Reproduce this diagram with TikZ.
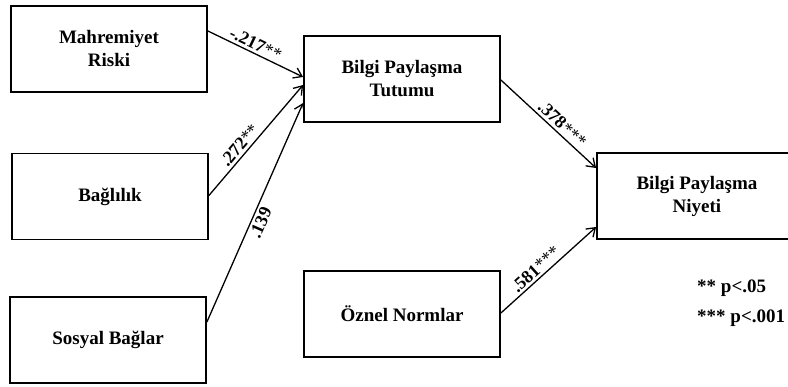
\documentclass[tikz,border=0pt]{standalone}
\usepackage{fontspec}
\setmainfont{Liberation Serif}
\usetikzlibrary{arrows.meta}

\begin{document}
\begin{tikzpicture}[x=1pt,y=-1pt,
    box/.style={draw,line width=1.8pt,minimum width=196pt,minimum height=86pt,align=center,font=\bfseries\fontsize{19}{23}\selectfont},
    link/.style={line width=1.3pt,-{Straight Barb[length=8pt,width=11pt]}},
    coef/.style={font=\bfseries\fontsize{18}{20}\selectfont,sloped,inner sep=2.5pt},
    note/.style={font=\bfseries\fontsize{19}{23}\selectfont,inner sep=0pt,anchor=base west}]
            \clip (0,0) rectangle (788,387);
            % Antecedents
            \node[box] (mah) at (109,49) {Mahremiyet\\Riski};
            \node[box] (bag) at (110,196.5) {Bağlılık};
            \node[box] (sos) at (108,340) {Sosyal Bağlar};
            
            % Attitude and norms
            \node[box] (tut) at (402,79) {Bilgi Paylaşma\\Tutumu};
            \node[box] (ozn) at (402,314) {Öznel Normlar};
            
            % Intention
            \node[box,minimum width=200pt] (niy) at (697,196) {Bilgi Paylaşma\\Niyeti};
            
            % Significance
            \node[note] (p05) at (697,293) {** p<.05};
            \node[note] (p001) at (697,323) {*** p<.001};
            
            \draw[link] ([yshift=18pt]mah.east) -- node[coef,above,pos=0.46] {-.217{\mdseries**}} ([yshift=2pt]tut.west);
            \draw[link] ([yshift=1pt]bag.east) -- node[coef,above,pos=0.4] {.272{\mdseries**}} ([yshift=-6pt]tut.west);
            \draw[link] ([yshift=18pt]sos.east) -- node[coef,below,pos=0.47] {.139} ([yshift=-24pt]tut.west);
            \draw[link] ([yshift=-1pt]tut.east) -- node[coef,above,pos=0.58] {.378{\mdseries***}} ([yshift=28pt]niy.west);
            \draw[link] ([yshift=1pt]ozn.east) -- node[coef,above,pos=0.43] {.581{\mdseries***}} ([yshift=-31pt]niy.west);
        \end{tikzpicture}
\end{document}
